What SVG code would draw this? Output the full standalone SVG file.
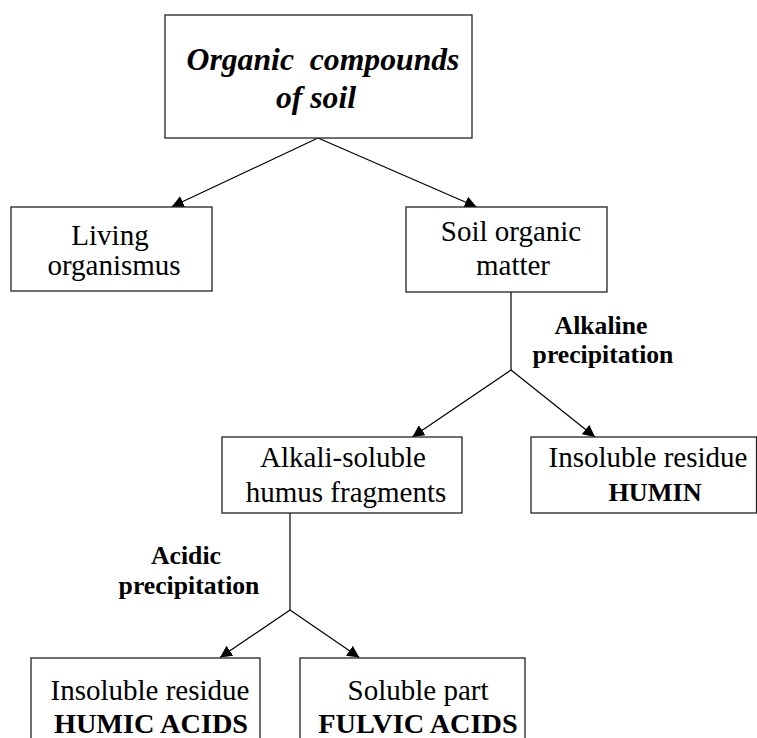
<svg xmlns="http://www.w3.org/2000/svg" width="757" height="738" viewBox="0 0 757 738">
<style>
.box{fill:#fff;stroke:#222;stroke-width:1.3}
.t{font-family:'Liberation Serif','Times New Roman',Times,serif;font-size:29px;fill:#000;text-anchor:middle}
.b{font-weight:bold;font-size:28.3px}
.lbl{font-family:'Liberation Serif','Times New Roman',Times,serif;font-weight:bold;font-size:25.7px;fill:#000;text-anchor:middle}
.title{font-family:'Liberation Serif','Times New Roman',Times,serif;font-weight:bold;font-style:italic;font-size:31.7px;fill:#000;text-anchor:middle;white-space:pre}
.c{fill:none;stroke:#000;stroke-width:1.2}
</style>
<defs>
<marker id="ah" markerUnits="userSpaceOnUse" markerWidth="12" markerHeight="12" refX="12" refY="6" orient="auto">
<path d="M0,0 L12,6 L0,12 z" fill="#000"/>
</marker>
</defs>
<rect width="757" height="738" fill="#fff"/>
<g id="connectors">
<line class="c" x1="318" y1="138" x2="171.7" y2="206.7" marker-end="url(#ah)"/>
<line class="c" x1="318" y1="138" x2="476.7" y2="207" marker-end="url(#ah)"/>
<line class="c" x1="511" y1="292" x2="511" y2="370"/>
<line class="c" x1="511" y1="370" x2="412.3" y2="437" marker-end="url(#ah)"/>
<line class="c" x1="511" y1="370" x2="595" y2="437" marker-end="url(#ah)"/>
<line class="c" x1="290" y1="513" x2="290" y2="610"/>
<line class="c" x1="290" y1="610" x2="220" y2="657.5" marker-end="url(#ah)"/>
<line class="c" x1="290" y1="610" x2="359.3" y2="657.5" marker-end="url(#ah)"/>
<text class="lbl" x="601" y="334">Alkaline</text>
<text class="lbl" x="603" y="363">precipitation</text>
<text class="lbl" x="186" y="564">Acidic</text>
<text class="lbl" x="189" y="594">precipitation</text>
</g>
<g id="organic-compounds">
<rect class="box" x="165" y="15" width="307" height="123"/>
<text class="title" x="323" y="70">Organic  compounds</text>
<text class="title" x="316" y="108">of soil</text>
</g>
<g id="living">
<rect class="box" x="11" y="207" width="201" height="84"/>
<text class="t" x="110" y="245">Living</text>
<text class="t" x="114" y="275">organismus</text>
</g>
<g id="som">
<rect class="box" x="406" y="207" width="201" height="85"/>
<text class="t" x="511" y="241">Soil organic</text>
<text class="t" x="513" y="275">matter</text>
</g>
<g id="alkali-soluble">
<rect class="box" x="222" y="437" width="240" height="76"/>
<text class="t" x="343" y="467">Alkali-soluble</text>
<text class="t" x="346" y="502">humus fragments</text>
</g>
<g id="humin">
<rect class="box" x="531" y="437" width="225.5" height="76"/>
<text class="t" x="648" y="467">Insoluble residue</text>
<text class="t b" x="655" y="501" style="font-size:26.2px">HUMIN</text>
</g>
<g id="humic">
<rect class="box" x="31" y="658" width="229" height="95"/>
<text class="t" x="150" y="700">Insoluble residue</text>
<text class="t b" x="151" y="733">HUMIC ACIDS</text>
</g>
<g id="fulvic">
<rect class="box" x="300" y="658" width="225" height="95"/>
<text class="t" x="418" y="700">Soluble part</text>
<text class="t b" x="418" y="733">FULVIC ACIDS</text>
</g>
</svg>
